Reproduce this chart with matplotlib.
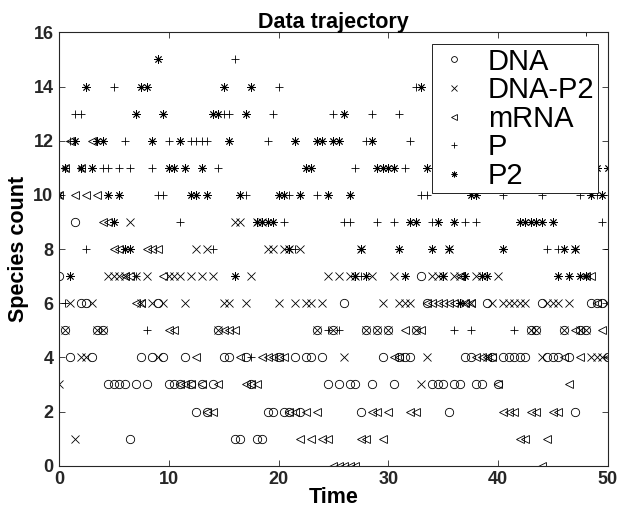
import numpy as np
import matplotlib
matplotlib.use("Agg")
import matplotlib.pyplot as plt

time = np.linspace(0, 50, 101)

dna = [7, 5, 4, 9, 6, 6, 4, 5, 5, 3,
       3, 3, 3, 1, 3, 4, 3, 4, 6, 4,
       3, 3, 3, 4, 3, 2, 3, 2, 3, 5,
       4, 4, 1, 1, 4, 3, 1, 1, 2, 2,
       4, 2, 2, 4, 2, 4, 4, 5, 4, 3,
       5, 3, 6, 3, 3, 2, 5, 3, 5, 4,
       5, 3, 4, 4, 4, 5, 7, 6, 3, 3,
       3, 2, 3, 3, 4, 4, 3, 3, 6, 4,
       3, 4, 4, 4, 4, 4, 5, 5, 6, 4,
       4, 4, 5, 4, 2, 5, 5, 6, 6, 6,
       4]

dna_p2 = [3, 5, 6, 1, 4, 4, 6, 5, 5, 7,
          7, 7, 7, 9, 7, 6, 7, 6, 4, 6,
          7, 7, 7, 6, 7, 8, 7, 8, 7, 5,
          6, 6, 9, 9, 6, 7, 9, 9, 8, 8,
          6, 8, 8, 6, 8, 6, 6, 5, 6, 7,
          5, 7, 4, 7, 7, 8, 5, 7, 5, 6,
          5, 7, 6, 6, 6, 5, 3, 4, 7, 7,
          7, 8, 7, 7, 6, 6, 7, 7, 4, 6,
          7, 6, 6, 6, 6, 6, 5, 5, 4, 6,
          6, 6, 5, 6, 8, 5, 5, 4, 4, 4,
          6]

mrna = [10, 11, 12, 10, 11, 10, 12, 10, 9, 9,
        8, 8, 7, 7, 6, 6, 8, 8, 8, 7,
        5, 5, 3, 3, 3, 4, 3, 2, 2, 3,
        5, 5, 5, 4, 3, 3, 3, 4, 4, 4,
        4, 4, 2, 2, 1, 2, 1, 2, 1, 1,
        0, 0, 0, 0, 0, 1, 1, 2, 2, 1,
        2, 4, 4, 5, 2, 2, 5, 6, 6, 6,
        6, 6, 6, 7, 6, 6, 4, 4, 4, 4,
        3, 2, 2, 2, 1, 1, 2, 2, 0, 1,
        2, 2, 4, 3, 5, 4, 7, 7, 6, 5,
        4]

protein = [10, 6, 12, 13, 13, 8, 11, 12, 11, 11,
           14, 11, 12, 11, 7, 14, 5, 11, 10, 10,
           12, 11, 9, 11, 12, 12, 12, 12, 8, 11,
           13, 13, 15, 10, 10, 4, 9, 9, 12, 13,
           14, 9, 10, 8, 10, 11, 11, 10, 12, 5,
           13, 5, 9, 9, 11, 7, 12, 13, 9, 11,
           11, 9, 13, 11, 12, 14, 10, 10, 9, 12,
           13, 12, 5, 11, 9, 5, 9, 12, 11, 13,
           12, 10, 11, 5, 12, 11, 13, 12, 10, 8,
           12, 8, 11, 13, 12, 10, 16, 12, 10, 9,
           8]

p2 = [10, 11, 7, 12, 11, 14, 11, 12, 12, 10,
      9, 10, 8, 8, 13, 14, 14, 12, 15, 13,
      11, 11, 12, 11, 10, 10, 11, 10, 13, 13,
      14, 12, 7, 10, 13, 14, 9, 9, 9, 9,
      10, 10, 8, 12, 10, 11, 11, 12, 12, 10,
      12, 12, 13, 10, 7, 8, 7, 12, 11, 11,
      11, 11, 8, 7, 9, 9, 14, 11, 8, 9,
      7, 8, 9, 6, 7, 10, 10, 7, 7, 12,
      13, 8, 12, 14, 9, 9, 9, 9, 9, 11,
      9, 7, 8, 7, 8, 7, 7, 10, 11, 10,
      11]

# matlab-style asterisk: 8 spokes, no fill
ASTERISK = (8, 2, 0)

SPECIES = [
    ("DNA", dna, "o"),
    ("DNA-P2", dna_p2, "x"),
    ("mRNA", mrna, "<"),
    ("P", protein, "+"),
    ("P2", p2, ASTERISK),
]

plt.rcParams["font.family"] = ["Liberation Sans", "DejaVu Sans"]

fig = plt.figure(figsize=(6.2, 5.11), dpi=100)
ax = fig.add_axes([0.0952, 0.0886, 0.885, 0.848])

for name, vals, mk in SPECIES:
    ax.plot(time, vals, linestyle="none", marker=mk, color="black",
            markerfacecolor="none", markersize=6, markeredgewidth=0.6,
            label=name)

ax.set_xlim(0, 50)
ax.set_ylim(0, 16)
ax.set_xticks([0, 10, 20, 30, 40, 50])
ax.set_yticks(range(0, 17, 2))
ax.tick_params(direction="in", top=True, right=True, length=4, width=0.6,
               labelsize=13, pad=4, colors="#262626")
for lbl in ax.get_xticklabels() + ax.get_yticklabels():
    lbl.set_fontweight("bold")
for sp in ax.spines.values():
    sp.set_linewidth(0.8)
    sp.set_color("#262626")

ax.set_title("Data trajectory", fontsize=15.5, fontweight="bold", pad=3)
ax.set_xlabel("Time", fontsize=15.5, fontweight="bold", labelpad=-1)
ax.set_ylabel("Species count", fontsize=15.5, fontweight="bold", labelpad=3)

leg = ax.legend(loc="upper right", bbox_to_anchor=(0.982, 0.973),
                fontsize=21, frameon=True, fancybox=False, framealpha=1,
                edgecolor="black", handlelength=1.3, handletextpad=0.5,
                labelspacing=0.02, borderpad=0.12, borderaxespad=0,
                markerscale=0.7)
leg.get_frame().set_linewidth(0.6)

fig.savefig("out.png", dpi=100)
